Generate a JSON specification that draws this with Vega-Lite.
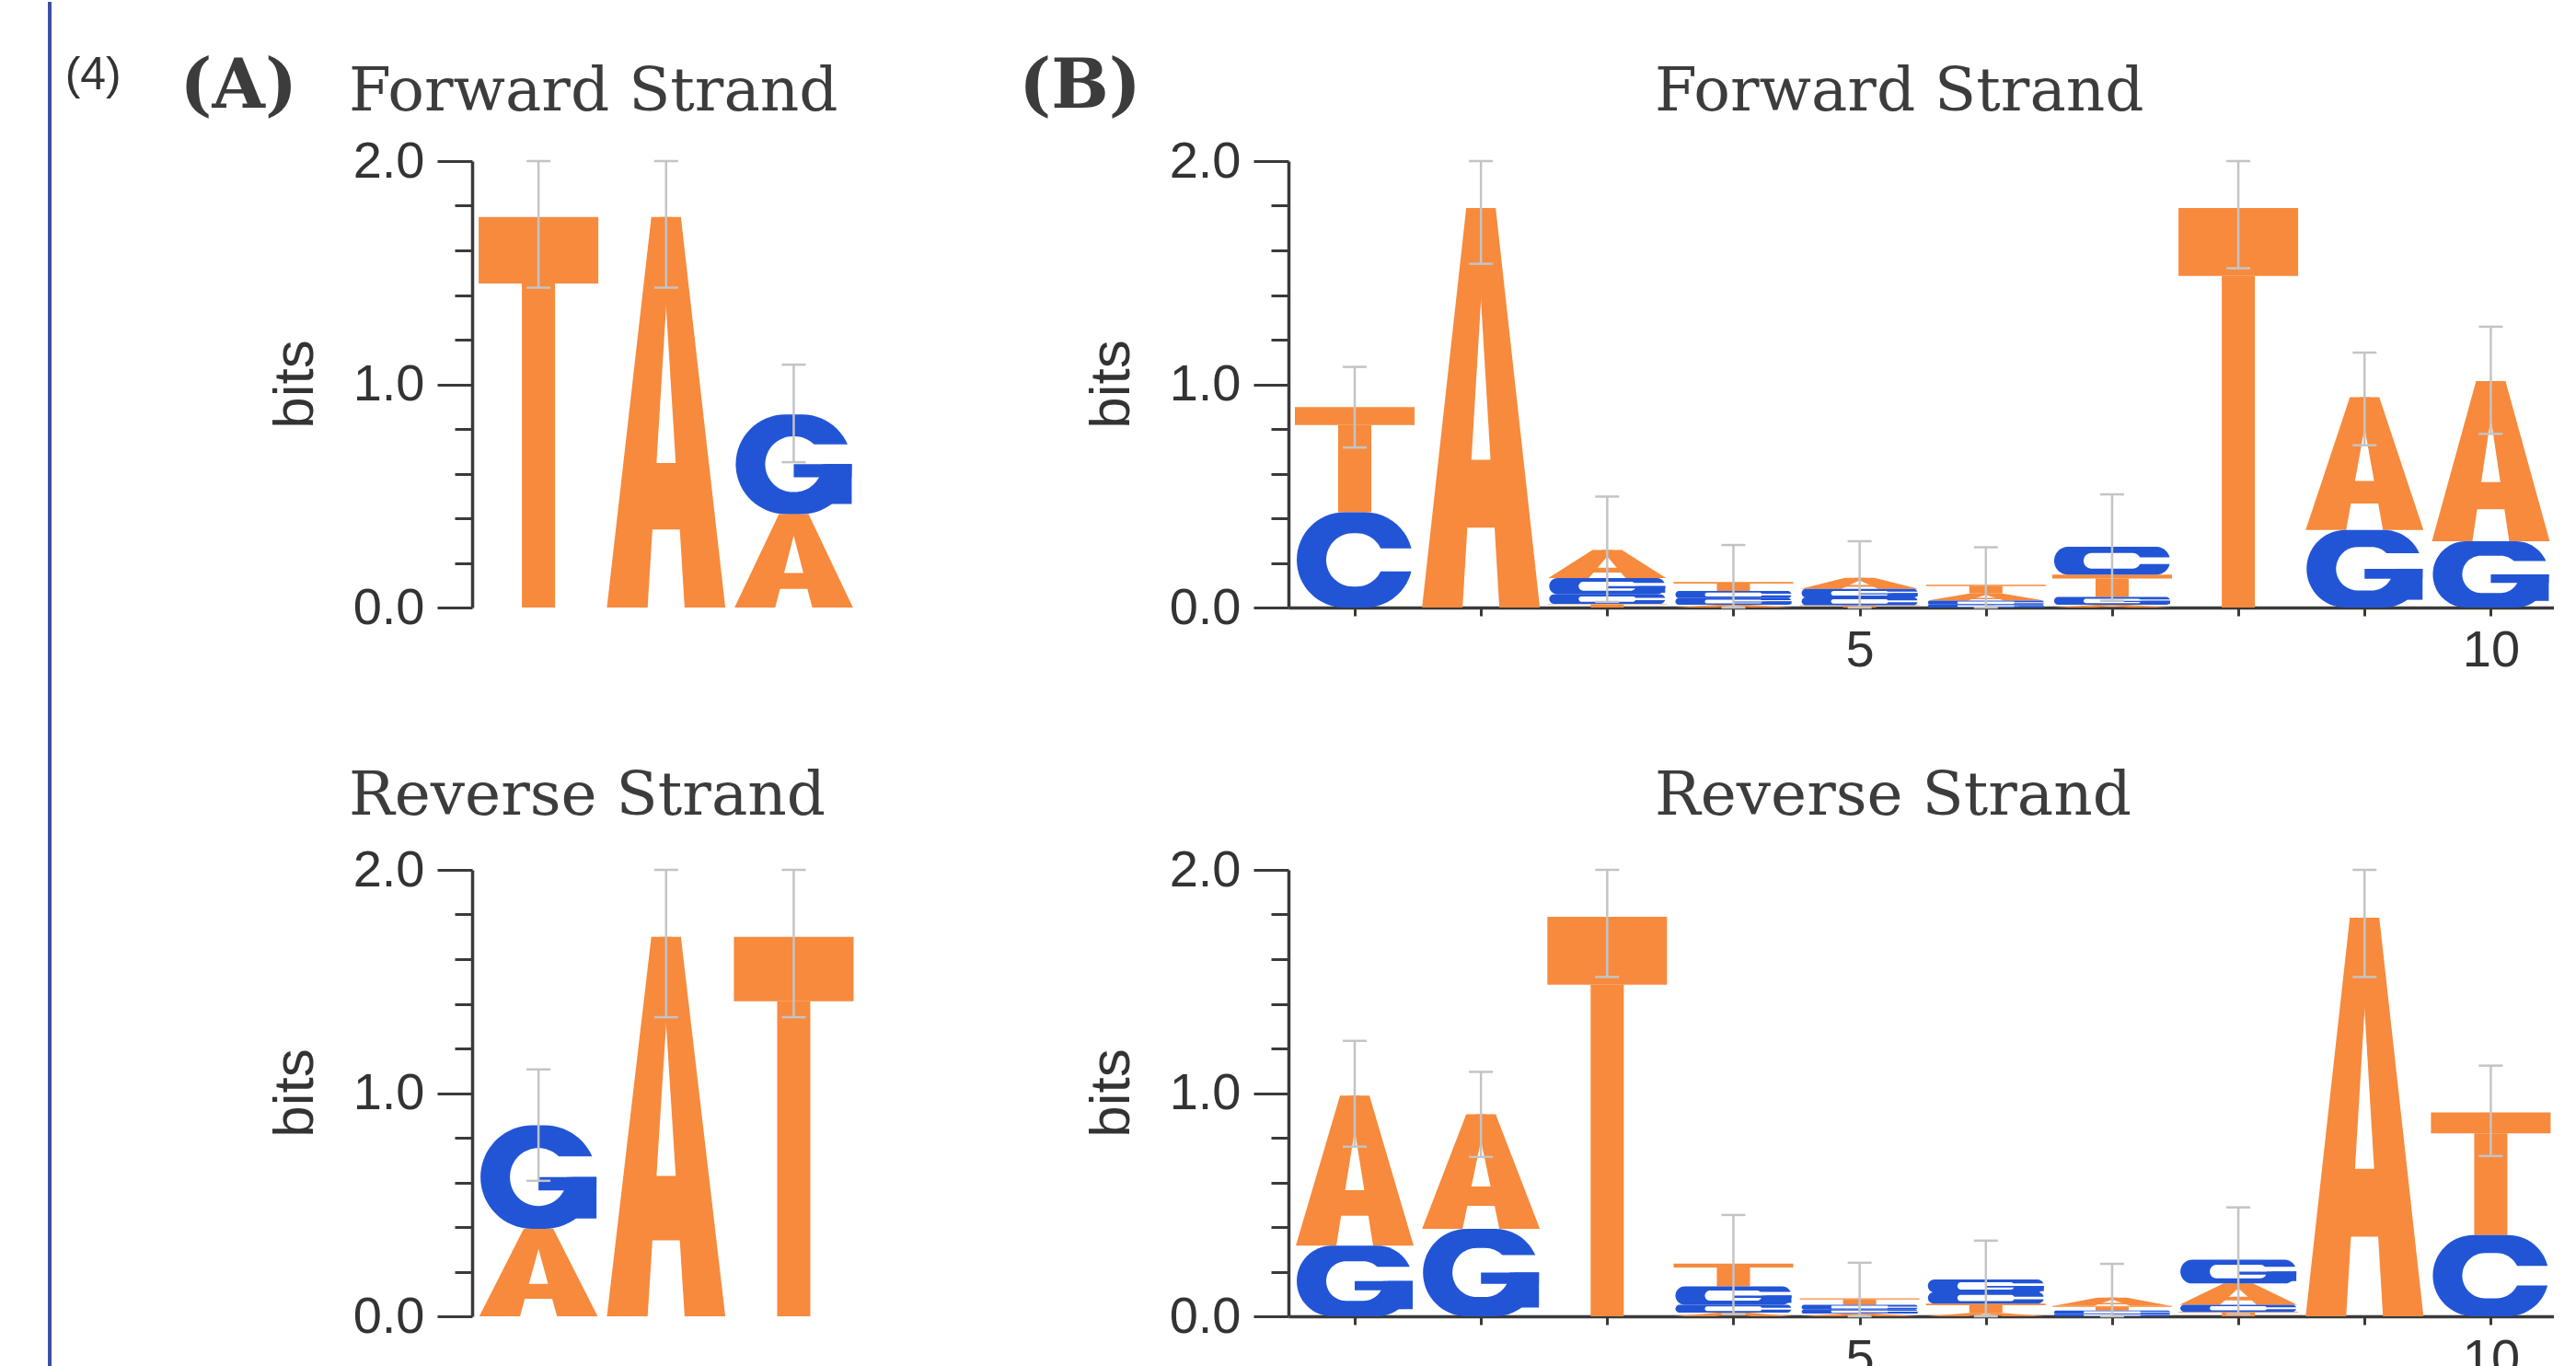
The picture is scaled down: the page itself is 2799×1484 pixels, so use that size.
{
"$schema": "https://vega.github.io/schema/vega-lite/v6.json",
"background": "#ffffff",
"padding": {"left": 52, "top": 0, "right": 0, "bottom": 0},
"config": {"view": {"stroke": null}, "axis": {"domainColor": "#3a3a3a", "tickColor": "#3a3a3a", "labelColor": "#333333", "titleColor": "#333333", "labelFont": "Liberation Sans", "titleFont": "Liberation Sans", "grid": false, "domainWidth": 3.5, "tickWidth": 3, "labelFlush": false, "labelOverlap": false}},
"datasets": {
"letters": [
{"p":"Af","pos":1,"base":"T","bits":1.749},
{"p":"Af","pos":2,"base":"A","bits":1.749},
{"p":"Af","pos":3,"base":"A","bits":0.419},
{"p":"Af","pos":3,"base":"G","bits":0.446},
{"p":"Ar","pos":1,"base":"A","bits":0.392},
{"p":"Ar","pos":1,"base":"G","bits":0.464},
{"p":"Ar","pos":2,"base":"A","bits":1.70},
{"p":"Ar","pos":3,"base":"T","bits":1.70},
{"p":"Bf","pos":1,"base":"C","bits":0.427},
{"p":"Bf","pos":1,"base":"T","bits":0.471},
{"p":"Bf","pos":2,"base":"A","bits":1.79},
{"p":"Bf","pos":3,"base":"T","bits":0.017},
{"p":"Bf","pos":3,"base":"C","bits":0.042},
{"p":"Bf","pos":3,"base":"G","bits":0.073},
{"p":"Bf","pos":3,"base":"A","bits":0.126},
{"p":"Bf","pos":4,"base":"A","bits":0.012},
{"p":"Bf","pos":4,"base":"G","bits":0.03},
{"p":"Bf","pos":4,"base":"C","bits":0.032},
{"p":"Bf","pos":4,"base":"T","bits":0.04},
{"p":"Bf","pos":5,"base":"T","bits":0.01},
{"p":"Bf","pos":5,"base":"C","bits":0.035},
{"p":"Bf","pos":5,"base":"G","bits":0.038},
{"p":"Bf","pos":5,"base":"A","bits":0.05},
{"p":"Bf","pos":6,"base":"G","bits":0.013},
{"p":"Bf","pos":6,"base":"C","bits":0.018},
{"p":"Bf","pos":6,"base":"A","bits":0.033},
{"p":"Bf","pos":6,"base":"T","bits":0.038},
{"p":"Bf","pos":7,"base":"A","bits":0.012},
{"p":"Bf","pos":7,"base":"G","bits":0.035},
{"p":"Bf","pos":7,"base":"T","bits":0.1},
{"p":"Bf","pos":7,"base":"C","bits":0.125},
{"p":"Bf","pos":8,"base":"T","bits":1.79},
{"p":"Bf","pos":9,"base":"G","bits":0.347},
{"p":"Bf","pos":9,"base":"A","bits":0.595},
{"p":"Bf","pos":10,"base":"G","bits":0.297},
{"p":"Bf","pos":10,"base":"A","bits":0.717},
{"p":"Br","pos":1,"base":"G","bits":0.316},
{"p":"Br","pos":1,"base":"A","bits":0.673},
{"p":"Br","pos":2,"base":"G","bits":0.392},
{"p":"Br","pos":2,"base":"A","bits":0.513},
{"p":"Br","pos":3,"base":"T","bits":1.79},
{"p":"Br","pos":4,"base":"A","bits":0.016},
{"p":"Br","pos":4,"base":"C","bits":0.036},
{"p":"Br","pos":4,"base":"G","bits":0.082},
{"p":"Br","pos":4,"base":"T","bits":0.102},
{"p":"Br","pos":5,"base":"A","bits":0.012},
{"p":"Br","pos":5,"base":"G","bits":0.018},
{"p":"Br","pos":5,"base":"C","bits":0.022},
{"p":"Br","pos":5,"base":"T","bits":0.028},
{"p":"Br","pos":6,"base":"A","bits":0.015},
{"p":"Br","pos":6,"base":"T","bits":0.042},
{"p":"Br","pos":6,"base":"C","bits":0.05},
{"p":"Br","pos":6,"base":"G","bits":0.058},
{"p":"Br","pos":7,"base":"G","bits":0.01},
{"p":"Br","pos":7,"base":"C","bits":0.016},
{"p":"Br","pos":7,"base":"T","bits":0.02},
{"p":"Br","pos":7,"base":"A","bits":0.037},
{"p":"Br","pos":8,"base":"T","bits":0.02},
{"p":"Br","pos":8,"base":"C","bits":0.032},
{"p":"Br","pos":8,"base":"A","bits":0.095},
{"p":"Br","pos":8,"base":"G","bits":0.107},
{"p":"Br","pos":9,"base":"A","bits":1.786},
{"p":"Br","pos":10,"base":"C","bits":0.364},
{"p":"Br","pos":10,"base":"T","bits":0.549}
],
"err": [
{"p":"Af","pos":1,"lo":1.433,"hi":2.0},
{"p":"Af","pos":2,"lo":1.433,"hi":2.0},
{"p":"Af","pos":3,"lo":0.651,"hi":1.088},
{"p":"Ar","pos":1,"lo":0.607,"hi":1.106},
{"p":"Ar","pos":2,"lo":1.34,"hi":2.0},
{"p":"Ar","pos":3,"lo":1.34,"hi":2.0},
{"p":"Bf","pos":1,"lo":0.717,"hi":1.078},
{"p":"Bf","pos":2,"lo":1.54,"hi":2.0},
{"p":"Bf","pos":3,"lo":0.025,"hi":0.497},
{"p":"Bf","pos":4,"lo":0.0,"hi":0.28},
{"p":"Bf","pos":5,"lo":0.0,"hi":0.297},
{"p":"Bf","pos":6,"lo":0.0,"hi":0.27},
{"p":"Bf","pos":7,"lo":0.03,"hi":0.507},
{"p":"Bf","pos":8,"lo":1.52,"hi":2.0},
{"p":"Bf","pos":9,"lo":0.727,"hi":1.142},
{"p":"Bf","pos":10,"lo":0.778,"hi":1.258},
{"p":"Br","pos":1,"lo":0.76,"hi":1.234},
{"p":"Br","pos":2,"lo":0.714,"hi":1.095},
{"p":"Br","pos":3,"lo":1.52,"hi":2.0},
{"p":"Br","pos":4,"lo":0.01,"hi":0.454},
{"p":"Br","pos":5,"lo":0.0,"hi":0.24},
{"p":"Br","pos":6,"lo":0.0,"hi":0.339},
{"p":"Br","pos":7,"lo":0.0,"hi":0.235},
{"p":"Br","pos":8,"lo":0.01,"hi":0.488},
{"p":"Br","pos":9,"lo":1.52,"hi":2.0},
{"p":"Br","pos":10,"lo":0.718,"hi":1.123}
]
},
"columns": 2,
"align": "each",
"bounds": "flush",
"spacing": {"row": 285, "column": 471},
"concat": [
{"width": 416, "height": 485, "layer": [
{"data": {"name": "letters"},
"transform": [
{"filter": "datum.p === 'Af'"},
{"stack": "bits", "groupby": ["pos"], "sort": [{"field": "bits", "order": "ascending"}], "as": ["y0", "y1"]},
{"calculate": "datum.y1 - datum.y0", "as": "h"},
{"calculate": "datum.y1 - 0.17 * datum.h", "as": "tb"},
{"calculate": "datum.y0 + 0.2 * datum.h", "as": "a0"},
{"calculate": "datum.y0 + 0.37 * datum.h", "as": "a1"},
{"calculate": "datum.y0 + 0.22 * datum.h", "as": "i0"},
{"calculate": "datum.y1 - 0.22 * datum.h", "as": "i1"},
{"calculate": "datum.y0 + (datum.base === 'C' ? 0.38 : 0.5) * datum.h", "as": "o0"},
{"calculate": "datum.y0 + (datum.base === 'C' ? 0.62 : 0.7) * datum.h", "as": "o1"},
{"calculate": "datum.y0 + 0.5 * datum.h", "as": "g1"},
{"calculate": "datum.y0 + 0.1 * datum.h", "as": "gs"}
],
"encoding": {"x": {"field": "pos", "type": "quantitative", "scale": {"domain": [0.48, 3.48], "nice": false, "zero": false}, "axis": null}},
"layer": [
{"transform": [{"filter": "datum.base === 'T'"}], "mark": {"type": "rect", "color": "#F78A3D", "xOffset": -65, "x2Offset": 65}, "encoding": {"x2": {"field": "pos"}, "y": {"field": "tb", "type": "quantitative", "scale": {"domain": [0, 2], "nice": false}, "axis": null}, "y2": {"field": "y1"}}},
{"transform": [{"filter": "datum.base === 'T'"}], "mark": {"type": "rect", "color": "#F78A3D", "xOffset": -18, "x2Offset": 18}, "encoding": {"x2": {"field": "pos"}, "y": {"field": "y0", "type": "quantitative", "scale": {"domain": [0, 2], "nice": false}, "axis": null}, "y2": {"field": "tb"}}},
{"transform": [{"filter": "datum.base === 'A'"}, {"fold": ["y0", "y1"], "as": ["end", "yv"]},
{"calculate": "datum.pos + (datum.end === 'y0' ? -64 : -16) / 138", "as": "lx1"},
{"calculate": "datum.pos + (datum.end === 'y0' ? -20 : 6) / 138", "as": "lx2"},
{"calculate": "datum.pos + (datum.end === 'y0' ? 20 : -6) / 138", "as": "rx1"},
{"calculate": "datum.pos + (datum.end === 'y0' ? 64 : 16) / 138", "as": "rx2"}],
"layer": [
{"mark": {"type": "area", "orient": "horizontal", "color": "#F78A3D", "opacity": 1}, "encoding": {"y": {"field": "yv", "type": "quantitative", "scale": {"domain": [0, 2], "nice": false}, "axis": null}, "x": {"field": "lx1", "type": "quantitative", "scale": {"domain": [0.48, 3.48], "nice": false, "zero": false}, "axis": null, "stack": null}, "x2": {"field": "lx2"}, "detail": {"field": "pos"}}},
{"mark": {"type": "area", "orient": "horizontal", "color": "#F78A3D", "opacity": 1}, "encoding": {"y": {"field": "yv", "type": "quantitative", "scale": {"domain": [0, 2], "nice": false}, "axis": null}, "x": {"field": "rx1", "type": "quantitative", "scale": {"domain": [0.48, 3.48], "nice": false, "zero": false}, "axis": null, "stack": null}, "x2": {"field": "rx2"}, "detail": {"field": "pos"}}}
]},
{"transform": [{"filter": "datum.base === 'A'"}], "mark": {"type": "rect", "color": "#F78A3D", "xOffset": -35, "x2Offset": 35}, "encoding": {"x2": {"field": "pos"}, "y": {"field": "a0", "type": "quantitative", "scale": {"domain": [0, 2], "nice": false}, "axis": null}, "y2": {"field": "a1"}}},
{"transform": [{"filter": "datum.base === 'C' || datum.base === 'G'"}], "mark": {"type": "rect", "color": "#2255D6", "xOffset": -63, "x2Offset": 63, "cornerRadius": 300}, "encoding": {"x2": {"field": "pos"}, "y": {"field": "y0", "type": "quantitative", "scale": {"domain": [0, 2], "nice": false}, "axis": null}, "y2": {"field": "y1"}}},
{"transform": [{"filter": "datum.base === 'C' || datum.base === 'G'"}], "mark": {"type": "rect", "color": "#ffffff", "xOffset": -31, "x2Offset": 31, "cornerRadius": 300}, "encoding": {"x2": {"field": "pos"}, "y": {"field": "i0", "type": "quantitative", "scale": {"domain": [0, 2], "nice": false}, "axis": null}, "y2": {"field": "i1"}}},
{"transform": [{"filter": "datum.base === 'C' || datum.base === 'G'"}], "mark": {"type": "rect", "color": "#ffffff", "xOffset": 10, "x2Offset": 66}, "encoding": {"x2": {"field": "pos"}, "y": {"field": "o0", "type": "quantitative", "scale": {"domain": [0, 2], "nice": false}, "axis": null}, "y2": {"field": "o1"}}},
{"transform": [{"filter": "datum.base === 'G'"}], "mark": {"type": "rect", "color": "#2255D6", "xOffset": 0, "x2Offset": 63}, "encoding": {"x2": {"field": "pos"}, "y": {"field": "a1", "type": "quantitative", "scale": {"domain": [0, 2], "nice": false}, "axis": null}, "y2": {"field": "g1"}}},
{"transform": [{"filter": "datum.base === 'G'"}], "mark": {"type": "rect", "color": "#2255D6", "xOffset": 36, "x2Offset": 63}, "encoding": {"x2": {"field": "pos"}, "y": {"field": "gs", "type": "quantitative", "scale": {"domain": [0, 2], "nice": false}, "axis": null}, "y2": {"field": "g1"}}}
]},
{"data": {"name": "err"}, "transform": [{"filter": "datum.p === 'Af'"}],
"resolve": {"axis": {"y": "independent"}},
"layer": [
{"mark": {"type": "rule", "color": "#c4c4c4", "strokeWidth": 2.5}, "encoding": {"x": {"field": "pos", "type": "quantitative", "scale": {"domain": [0.48, 3.48], "nice": false, "zero": false}, "axis": {"title": null, "values": [1, 2, 3], "labels": false, "tickSize": 9}}, "y": {"field": "lo", "type": "quantitative", "scale": {"domain": [0, 2], "nice": false}, "axis": {"orient": "left", "title": "bits", "values": [0, 1, 2], "format": ".1f", "tickSize": 38, "labelPadding": 14, "labelFontSize": 56, "titleFontSize": 62, "titleFontWeight": "normal", "titleX": -174, "titleY": 242, "titleAngle": 270, "titleAlign": "center", "titleBaseline": "alphabetic"}}, "y2": {"field": "hi"}}},
{"mark": {"type": "rule", "color": "#c4c4c4", "strokeWidth": 2.5, "xOffset": -13, "x2Offset": 13}, "encoding": {"x": {"field": "pos", "type": "quantitative", "scale": {"domain": [0.48, 3.48], "nice": false, "zero": false}, "axis": null}, "x2": {"field": "pos"}, "y": {"field": "hi", "type": "quantitative", "scale": {"domain": [0, 2], "nice": false}, "axis": {"orient": "left", "title": null, "values": [0.2, 0.4, 0.6, 0.8, 1.2, 1.4, 1.6, 1.8], "labels": false, "domain": false, "tickSize": 19}}}},
{"mark": {"type": "rule", "color": "#c4c4c4", "strokeWidth": 2.5, "xOffset": -13, "x2Offset": 13}, "encoding": {"x": {"field": "pos", "type": "quantitative", "scale": {"domain": [0.48, 3.48], "nice": false, "zero": false}, "axis": null}, "x2": {"field": "pos"}, "y": {"field": "lo", "type": "quantitative", "scale": {"domain": [0, 2], "nice": false}, "axis": null}}}
]},
{"data": {"values": [{}]}, "mark": {"type": "rule", "color": "#3B4FA3", "strokeWidth": 4}, "encoding": {"x": {"datum": -2.83, "type": "quantitative", "scale": {"domain": [0.48, 3.48], "nice": false, "zero": false}, "axis": null}, "y": {"datum": 2.7134, "type": "quantitative", "scale": {"domain": [0, 2], "nice": false}, "axis": null}, "y2": {"datum": -3.5}}},
{"data": {"values": [{}]}, "mark": {"type": "text", "text": "(4)", "align": "left", "baseline": "alphabetic", "font": "Liberation Sans", "fontSize": 50, "color": "#333333"}, "encoding": {"x": {"datum": -2.71, "type": "quantitative", "scale": {"domain": [0.48, 3.48], "nice": false, "zero": false}, "axis": null}, "y": {"datum": 2.322, "type": "quantitative", "scale": {"domain": [0, 2], "nice": false}, "axis": null}}},
{"data": {"values": [{}]}, "mark": {"type": "text", "text": "(A)", "align": "left", "baseline": "alphabetic", "font": "DejaVu Serif", "fontWeight": "bold", "fontSize": 74, "color": "#3c3c3c"}, "encoding": {"x": {"datum": -1.81, "type": "quantitative", "scale": {"domain": [0.48, 3.48], "nice": false, "zero": false}, "axis": null}, "y": {"datum": 2.238, "type": "quantitative", "scale": {"domain": [0, 2], "nice": false}, "axis": null}}},
{"data": {"values": [{}]}, "mark": {"type": "text", "text": "Forward Strand", "align": "left", "baseline": "alphabetic", "font": "DejaVu Serif", "fontSize": 66, "color": "#3c3c3c"}, "encoding": {"x": {"datum": -0.486, "type": "quantitative", "scale": {"domain": [0.48, 3.48], "nice": false, "zero": false}, "axis": null}, "y": {"datum": 2.227, "type": "quantitative", "scale": {"domain": [0, 2], "nice": false}, "axis": null}}}
]},
{"width": 1375, "height": 485, "layer": [
{"data": {"name": "letters"},
"transform": [
{"filter": "datum.p === 'Bf'"},
{"stack": "bits", "groupby": ["pos"], "sort": [{"field": "bits", "order": "ascending"}], "as": ["y0", "y1"]},
{"calculate": "datum.y1 - datum.y0", "as": "h"},
{"calculate": "datum.y1 - 0.17 * datum.h", "as": "tb"},
{"calculate": "datum.y0 + 0.2 * datum.h", "as": "a0"},
{"calculate": "datum.y0 + 0.37 * datum.h", "as": "a1"},
{"calculate": "datum.y0 + 0.22 * datum.h", "as": "i0"},
{"calculate": "datum.y1 - 0.22 * datum.h", "as": "i1"},
{"calculate": "datum.y0 + (datum.base === 'C' ? 0.38 : 0.5) * datum.h", "as": "o0"},
{"calculate": "datum.y0 + (datum.base === 'C' ? 0.62 : 0.7) * datum.h", "as": "o1"},
{"calculate": "datum.y0 + 0.5 * datum.h", "as": "g1"},
{"calculate": "datum.y0 + 0.1 * datum.h", "as": "gs"}
],
"encoding": {"x": {"field": "pos", "type": "quantitative", "scale": {"domain": [0.475, 10.5], "nice": false, "zero": false}, "axis": null}},
"layer": [
{"transform": [{"filter": "datum.base === 'T'"}], "mark": {"type": "rect", "color": "#F78A3D", "xOffset": -65, "x2Offset": 65}, "encoding": {"x2": {"field": "pos"}, "y": {"field": "tb", "type": "quantitative", "scale": {"domain": [0, 2], "nice": false}, "axis": null}, "y2": {"field": "y1"}}},
{"transform": [{"filter": "datum.base === 'T'"}], "mark": {"type": "rect", "color": "#F78A3D", "xOffset": -18, "x2Offset": 18}, "encoding": {"x2": {"field": "pos"}, "y": {"field": "y0", "type": "quantitative", "scale": {"domain": [0, 2], "nice": false}, "axis": null}, "y2": {"field": "tb"}}},
{"transform": [{"filter": "datum.base === 'A'"}, {"fold": ["y0", "y1"], "as": ["end", "yv"]},
{"calculate": "datum.pos + (datum.end === 'y0' ? -64 : -16) / 137.2", "as": "lx1"},
{"calculate": "datum.pos + (datum.end === 'y0' ? -20 : 6) / 137.2", "as": "lx2"},
{"calculate": "datum.pos + (datum.end === 'y0' ? 20 : -6) / 137.2", "as": "rx1"},
{"calculate": "datum.pos + (datum.end === 'y0' ? 64 : 16) / 137.2", "as": "rx2"}],
"layer": [
{"mark": {"type": "area", "orient": "horizontal", "color": "#F78A3D", "opacity": 1}, "encoding": {"y": {"field": "yv", "type": "quantitative", "scale": {"domain": [0, 2], "nice": false}, "axis": null}, "x": {"field": "lx1", "type": "quantitative", "scale": {"domain": [0.475, 10.5], "nice": false, "zero": false}, "axis": null, "stack": null}, "x2": {"field": "lx2"}, "detail": {"field": "pos"}}},
{"mark": {"type": "area", "orient": "horizontal", "color": "#F78A3D", "opacity": 1}, "encoding": {"y": {"field": "yv", "type": "quantitative", "scale": {"domain": [0, 2], "nice": false}, "axis": null}, "x": {"field": "rx1", "type": "quantitative", "scale": {"domain": [0.475, 10.5], "nice": false, "zero": false}, "axis": null, "stack": null}, "x2": {"field": "rx2"}, "detail": {"field": "pos"}}}
]},
{"transform": [{"filter": "datum.base === 'A'"}], "mark": {"type": "rect", "color": "#F78A3D", "xOffset": -35, "x2Offset": 35}, "encoding": {"x2": {"field": "pos"}, "y": {"field": "a0", "type": "quantitative", "scale": {"domain": [0, 2], "nice": false}, "axis": null}, "y2": {"field": "a1"}}},
{"transform": [{"filter": "datum.base === 'C' || datum.base === 'G'"}], "mark": {"type": "rect", "color": "#2255D6", "xOffset": -63, "x2Offset": 63, "cornerRadius": 300}, "encoding": {"x2": {"field": "pos"}, "y": {"field": "y0", "type": "quantitative", "scale": {"domain": [0, 2], "nice": false}, "axis": null}, "y2": {"field": "y1"}}},
{"transform": [{"filter": "datum.base === 'C' || datum.base === 'G'"}], "mark": {"type": "rect", "color": "#ffffff", "xOffset": -31, "x2Offset": 31, "cornerRadius": 300}, "encoding": {"x2": {"field": "pos"}, "y": {"field": "i0", "type": "quantitative", "scale": {"domain": [0, 2], "nice": false}, "axis": null}, "y2": {"field": "i1"}}},
{"transform": [{"filter": "datum.base === 'C' || datum.base === 'G'"}], "mark": {"type": "rect", "color": "#ffffff", "xOffset": 10, "x2Offset": 66}, "encoding": {"x2": {"field": "pos"}, "y": {"field": "o0", "type": "quantitative", "scale": {"domain": [0, 2], "nice": false}, "axis": null}, "y2": {"field": "o1"}}},
{"transform": [{"filter": "datum.base === 'G'"}], "mark": {"type": "rect", "color": "#2255D6", "xOffset": 0, "x2Offset": 63}, "encoding": {"x2": {"field": "pos"}, "y": {"field": "a1", "type": "quantitative", "scale": {"domain": [0, 2], "nice": false}, "axis": null}, "y2": {"field": "g1"}}},
{"transform": [{"filter": "datum.base === 'G'"}], "mark": {"type": "rect", "color": "#2255D6", "xOffset": 36, "x2Offset": 63}, "encoding": {"x2": {"field": "pos"}, "y": {"field": "gs", "type": "quantitative", "scale": {"domain": [0, 2], "nice": false}, "axis": null}, "y2": {"field": "g1"}}}
]},
{"data": {"name": "err"}, "transform": [{"filter": "datum.p === 'Bf'"}],
"resolve": {"axis": {"y": "independent", "x": "independent"}},
"layer": [
{"mark": {"type": "rule", "color": "#c4c4c4", "strokeWidth": 2.5}, "encoding": {"x": {"field": "pos", "type": "quantitative", "scale": {"domain": [0.475, 10.5], "nice": false, "zero": false}, "axis": {"orient": "bottom", "title": null, "values": [5, 10], "format": "d", "labelFontSize": 56, "labelPadding": 10, "tickSize": 9}}, "y": {"field": "lo", "type": "quantitative", "scale": {"domain": [0, 2], "nice": false}, "axis": {"orient": "left", "title": "bits", "values": [0, 1, 2], "format": ".1f", "tickSize": 38, "labelPadding": 14, "labelFontSize": 56, "titleFontSize": 62, "titleFontWeight": "normal", "titleX": -174, "titleY": 242, "titleAngle": 270, "titleAlign": "center", "titleBaseline": "alphabetic"}}, "y2": {"field": "hi"}}},
{"mark": {"type": "rule", "color": "#c4c4c4", "strokeWidth": 2.5, "xOffset": -13, "x2Offset": 13}, "encoding": {"x": {"field": "pos", "type": "quantitative", "scale": {"domain": [0.475, 10.5], "nice": false, "zero": false}, "axis": {"orient": "bottom", "title": null, "values": [1, 2, 3, 4, 6, 7, 8, 9], "labels": false, "domain": false, "tickSize": 9}}, "x2": {"field": "pos"}, "y": {"field": "hi", "type": "quantitative", "scale": {"domain": [0, 2], "nice": false}, "axis": {"orient": "left", "title": null, "values": [0.2, 0.4, 0.6, 0.8, 1.2, 1.4, 1.6, 1.8], "labels": false, "domain": false, "tickSize": 19}}}},
{"mark": {"type": "rule", "color": "#c4c4c4", "strokeWidth": 2.5, "xOffset": -13, "x2Offset": 13}, "encoding": {"x": {"field": "pos", "type": "quantitative", "scale": {"domain": [0.475, 10.5], "nice": false, "zero": false}, "axis": null}, "x2": {"field": "pos"}, "y": {"field": "lo", "type": "quantitative", "scale": {"domain": [0, 2], "nice": false}, "axis": null}}}
]},
{"data": {"values": [{}]}, "mark": {"type": "text", "text": "(B)", "align": "left", "baseline": "alphabetic", "font": "DejaVu Serif", "fontWeight": "bold", "fontSize": 74, "color": "#3c3c3c"}, "encoding": {"x": {"datum": -1.66, "type": "quantitative", "scale": {"domain": [0.475, 10.5], "nice": false, "zero": false}, "axis": null}, "y": {"datum": 2.238, "type": "quantitative", "scale": {"domain": [0, 2], "nice": false}, "axis": null}}},
{"data": {"values": [{}]}, "mark": {"type": "text", "text": "Forward Strand", "align": "left", "baseline": "alphabetic", "font": "DejaVu Serif", "fontSize": 66, "color": "#3c3c3c"}, "encoding": {"x": {"datum": 3.377, "type": "quantitative", "scale": {"domain": [0.475, 10.5], "nice": false, "zero": false}, "axis": null}, "y": {"datum": 2.227, "type": "quantitative", "scale": {"domain": [0, 2], "nice": false}, "axis": null}}}
]},
{"width": 416, "height": 485, "layer": [
{"data": {"name": "letters"},
"transform": [
{"filter": "datum.p === 'Ar'"},
{"stack": "bits", "groupby": ["pos"], "sort": [{"field": "bits", "order": "ascending"}], "as": ["y0", "y1"]},
{"calculate": "datum.y1 - datum.y0", "as": "h"},
{"calculate": "datum.y1 - 0.17 * datum.h", "as": "tb"},
{"calculate": "datum.y0 + 0.2 * datum.h", "as": "a0"},
{"calculate": "datum.y0 + 0.37 * datum.h", "as": "a1"},
{"calculate": "datum.y0 + 0.22 * datum.h", "as": "i0"},
{"calculate": "datum.y1 - 0.22 * datum.h", "as": "i1"},
{"calculate": "datum.y0 + (datum.base === 'C' ? 0.38 : 0.5) * datum.h", "as": "o0"},
{"calculate": "datum.y0 + (datum.base === 'C' ? 0.62 : 0.7) * datum.h", "as": "o1"},
{"calculate": "datum.y0 + 0.5 * datum.h", "as": "g1"},
{"calculate": "datum.y0 + 0.1 * datum.h", "as": "gs"}
],
"encoding": {"x": {"field": "pos", "type": "quantitative", "scale": {"domain": [0.48, 3.48], "nice": false, "zero": false}, "axis": null}},
"layer": [
{"transform": [{"filter": "datum.base === 'T'"}], "mark": {"type": "rect", "color": "#F78A3D", "xOffset": -65, "x2Offset": 65}, "encoding": {"x2": {"field": "pos"}, "y": {"field": "tb", "type": "quantitative", "scale": {"domain": [0, 2], "nice": false}, "axis": null}, "y2": {"field": "y1"}}},
{"transform": [{"filter": "datum.base === 'T'"}], "mark": {"type": "rect", "color": "#F78A3D", "xOffset": -18, "x2Offset": 18}, "encoding": {"x2": {"field": "pos"}, "y": {"field": "y0", "type": "quantitative", "scale": {"domain": [0, 2], "nice": false}, "axis": null}, "y2": {"field": "tb"}}},
{"transform": [{"filter": "datum.base === 'A'"}, {"fold": ["y0", "y1"], "as": ["end", "yv"]},
{"calculate": "datum.pos + (datum.end === 'y0' ? -64 : -16) / 138", "as": "lx1"},
{"calculate": "datum.pos + (datum.end === 'y0' ? -20 : 6) / 138", "as": "lx2"},
{"calculate": "datum.pos + (datum.end === 'y0' ? 20 : -6) / 138", "as": "rx1"},
{"calculate": "datum.pos + (datum.end === 'y0' ? 64 : 16) / 138", "as": "rx2"}],
"layer": [
{"mark": {"type": "area", "orient": "horizontal", "color": "#F78A3D", "opacity": 1}, "encoding": {"y": {"field": "yv", "type": "quantitative", "scale": {"domain": [0, 2], "nice": false}, "axis": null}, "x": {"field": "lx1", "type": "quantitative", "scale": {"domain": [0.48, 3.48], "nice": false, "zero": false}, "axis": null, "stack": null}, "x2": {"field": "lx2"}, "detail": {"field": "pos"}}},
{"mark": {"type": "area", "orient": "horizontal", "color": "#F78A3D", "opacity": 1}, "encoding": {"y": {"field": "yv", "type": "quantitative", "scale": {"domain": [0, 2], "nice": false}, "axis": null}, "x": {"field": "rx1", "type": "quantitative", "scale": {"domain": [0.48, 3.48], "nice": false, "zero": false}, "axis": null, "stack": null}, "x2": {"field": "rx2"}, "detail": {"field": "pos"}}}
]},
{"transform": [{"filter": "datum.base === 'A'"}], "mark": {"type": "rect", "color": "#F78A3D", "xOffset": -35, "x2Offset": 35}, "encoding": {"x2": {"field": "pos"}, "y": {"field": "a0", "type": "quantitative", "scale": {"domain": [0, 2], "nice": false}, "axis": null}, "y2": {"field": "a1"}}},
{"transform": [{"filter": "datum.base === 'C' || datum.base === 'G'"}], "mark": {"type": "rect", "color": "#2255D6", "xOffset": -63, "x2Offset": 63, "cornerRadius": 300}, "encoding": {"x2": {"field": "pos"}, "y": {"field": "y0", "type": "quantitative", "scale": {"domain": [0, 2], "nice": false}, "axis": null}, "y2": {"field": "y1"}}},
{"transform": [{"filter": "datum.base === 'C' || datum.base === 'G'"}], "mark": {"type": "rect", "color": "#ffffff", "xOffset": -31, "x2Offset": 31, "cornerRadius": 300}, "encoding": {"x2": {"field": "pos"}, "y": {"field": "i0", "type": "quantitative", "scale": {"domain": [0, 2], "nice": false}, "axis": null}, "y2": {"field": "i1"}}},
{"transform": [{"filter": "datum.base === 'C' || datum.base === 'G'"}], "mark": {"type": "rect", "color": "#ffffff", "xOffset": 10, "x2Offset": 66}, "encoding": {"x2": {"field": "pos"}, "y": {"field": "o0", "type": "quantitative", "scale": {"domain": [0, 2], "nice": false}, "axis": null}, "y2": {"field": "o1"}}},
{"transform": [{"filter": "datum.base === 'G'"}], "mark": {"type": "rect", "color": "#2255D6", "xOffset": 0, "x2Offset": 63}, "encoding": {"x2": {"field": "pos"}, "y": {"field": "a1", "type": "quantitative", "scale": {"domain": [0, 2], "nice": false}, "axis": null}, "y2": {"field": "g1"}}},
{"transform": [{"filter": "datum.base === 'G'"}], "mark": {"type": "rect", "color": "#2255D6", "xOffset": 36, "x2Offset": 63}, "encoding": {"x2": {"field": "pos"}, "y": {"field": "gs", "type": "quantitative", "scale": {"domain": [0, 2], "nice": false}, "axis": null}, "y2": {"field": "g1"}}}
]},
{"data": {"name": "err"}, "transform": [{"filter": "datum.p === 'Ar'"}],
"resolve": {"axis": {"y": "independent"}},
"layer": [
{"mark": {"type": "rule", "color": "#c4c4c4", "strokeWidth": 2.5}, "encoding": {"x": {"field": "pos", "type": "quantitative", "scale": {"domain": [0.48, 3.48], "nice": false, "zero": false}, "axis": {"title": null, "values": [1, 2, 3], "labels": false, "tickSize": 9}}, "y": {"field": "lo", "type": "quantitative", "scale": {"domain": [0, 2], "nice": false}, "axis": {"orient": "left", "title": "bits", "values": [0, 1, 2], "format": ".1f", "tickSize": 38, "labelPadding": 14, "labelFontSize": 56, "titleFontSize": 62, "titleFontWeight": "normal", "titleX": -174, "titleY": 242, "titleAngle": 270, "titleAlign": "center", "titleBaseline": "alphabetic"}}, "y2": {"field": "hi"}}},
{"mark": {"type": "rule", "color": "#c4c4c4", "strokeWidth": 2.5, "xOffset": -13, "x2Offset": 13}, "encoding": {"x": {"field": "pos", "type": "quantitative", "scale": {"domain": [0.48, 3.48], "nice": false, "zero": false}, "axis": null}, "x2": {"field": "pos"}, "y": {"field": "hi", "type": "quantitative", "scale": {"domain": [0, 2], "nice": false}, "axis": {"orient": "left", "title": null, "values": [0.2, 0.4, 0.6, 0.8, 1.2, 1.4, 1.6, 1.8], "labels": false, "domain": false, "tickSize": 19}}}},
{"mark": {"type": "rule", "color": "#c4c4c4", "strokeWidth": 2.5, "xOffset": -13, "x2Offset": 13}, "encoding": {"x": {"field": "pos", "type": "quantitative", "scale": {"domain": [0.48, 3.48], "nice": false, "zero": false}, "axis": null}, "x2": {"field": "pos"}, "y": {"field": "lo", "type": "quantitative", "scale": {"domain": [0, 2], "nice": false}, "axis": null}}}
]},
{"data": {"values": [{}]}, "mark": {"type": "text", "text": "Reverse Strand", "align": "left", "baseline": "alphabetic", "font": "DejaVu Serif", "fontSize": 66, "color": "#3c3c3c"}, "encoding": {"x": {"datum": -0.486, "type": "quantitative", "scale": {"domain": [0.48, 3.48], "nice": false, "zero": false}, "axis": null}, "y": {"datum": 2.247, "type": "quantitative", "scale": {"domain": [0, 2], "nice": false}, "axis": null}}}
]},
{"width": 1375, "height": 485, "layer": [
{"data": {"name": "letters"},
"transform": [
{"filter": "datum.p === 'Br'"},
{"stack": "bits", "groupby": ["pos"], "sort": [{"field": "bits", "order": "ascending"}], "as": ["y0", "y1"]},
{"calculate": "datum.y1 - datum.y0", "as": "h"},
{"calculate": "datum.y1 - 0.17 * datum.h", "as": "tb"},
{"calculate": "datum.y0 + 0.2 * datum.h", "as": "a0"},
{"calculate": "datum.y0 + 0.37 * datum.h", "as": "a1"},
{"calculate": "datum.y0 + 0.22 * datum.h", "as": "i0"},
{"calculate": "datum.y1 - 0.22 * datum.h", "as": "i1"},
{"calculate": "datum.y0 + (datum.base === 'C' ? 0.38 : 0.5) * datum.h", "as": "o0"},
{"calculate": "datum.y0 + (datum.base === 'C' ? 0.62 : 0.7) * datum.h", "as": "o1"},
{"calculate": "datum.y0 + 0.5 * datum.h", "as": "g1"},
{"calculate": "datum.y0 + 0.1 * datum.h", "as": "gs"}
],
"encoding": {"x": {"field": "pos", "type": "quantitative", "scale": {"domain": [0.475, 10.5], "nice": false, "zero": false}, "axis": null}},
"layer": [
{"transform": [{"filter": "datum.base === 'T'"}], "mark": {"type": "rect", "color": "#F78A3D", "xOffset": -65, "x2Offset": 65}, "encoding": {"x2": {"field": "pos"}, "y": {"field": "tb", "type": "quantitative", "scale": {"domain": [0, 2], "nice": false}, "axis": null}, "y2": {"field": "y1"}}},
{"transform": [{"filter": "datum.base === 'T'"}], "mark": {"type": "rect", "color": "#F78A3D", "xOffset": -18, "x2Offset": 18}, "encoding": {"x2": {"field": "pos"}, "y": {"field": "y0", "type": "quantitative", "scale": {"domain": [0, 2], "nice": false}, "axis": null}, "y2": {"field": "tb"}}},
{"transform": [{"filter": "datum.base === 'A'"}, {"fold": ["y0", "y1"], "as": ["end", "yv"]},
{"calculate": "datum.pos + (datum.end === 'y0' ? -64 : -16) / 137.2", "as": "lx1"},
{"calculate": "datum.pos + (datum.end === 'y0' ? -20 : 6) / 137.2", "as": "lx2"},
{"calculate": "datum.pos + (datum.end === 'y0' ? 20 : -6) / 137.2", "as": "rx1"},
{"calculate": "datum.pos + (datum.end === 'y0' ? 64 : 16) / 137.2", "as": "rx2"}],
"layer": [
{"mark": {"type": "area", "orient": "horizontal", "color": "#F78A3D", "opacity": 1}, "encoding": {"y": {"field": "yv", "type": "quantitative", "scale": {"domain": [0, 2], "nice": false}, "axis": null}, "x": {"field": "lx1", "type": "quantitative", "scale": {"domain": [0.475, 10.5], "nice": false, "zero": false}, "axis": null, "stack": null}, "x2": {"field": "lx2"}, "detail": {"field": "pos"}}},
{"mark": {"type": "area", "orient": "horizontal", "color": "#F78A3D", "opacity": 1}, "encoding": {"y": {"field": "yv", "type": "quantitative", "scale": {"domain": [0, 2], "nice": false}, "axis": null}, "x": {"field": "rx1", "type": "quantitative", "scale": {"domain": [0.475, 10.5], "nice": false, "zero": false}, "axis": null, "stack": null}, "x2": {"field": "rx2"}, "detail": {"field": "pos"}}}
]},
{"transform": [{"filter": "datum.base === 'A'"}], "mark": {"type": "rect", "color": "#F78A3D", "xOffset": -35, "x2Offset": 35}, "encoding": {"x2": {"field": "pos"}, "y": {"field": "a0", "type": "quantitative", "scale": {"domain": [0, 2], "nice": false}, "axis": null}, "y2": {"field": "a1"}}},
{"transform": [{"filter": "datum.base === 'C' || datum.base === 'G'"}], "mark": {"type": "rect", "color": "#2255D6", "xOffset": -63, "x2Offset": 63, "cornerRadius": 300}, "encoding": {"x2": {"field": "pos"}, "y": {"field": "y0", "type": "quantitative", "scale": {"domain": [0, 2], "nice": false}, "axis": null}, "y2": {"field": "y1"}}},
{"transform": [{"filter": "datum.base === 'C' || datum.base === 'G'"}], "mark": {"type": "rect", "color": "#ffffff", "xOffset": -31, "x2Offset": 31, "cornerRadius": 300}, "encoding": {"x2": {"field": "pos"}, "y": {"field": "i0", "type": "quantitative", "scale": {"domain": [0, 2], "nice": false}, "axis": null}, "y2": {"field": "i1"}}},
{"transform": [{"filter": "datum.base === 'C' || datum.base === 'G'"}], "mark": {"type": "rect", "color": "#ffffff", "xOffset": 10, "x2Offset": 66}, "encoding": {"x2": {"field": "pos"}, "y": {"field": "o0", "type": "quantitative", "scale": {"domain": [0, 2], "nice": false}, "axis": null}, "y2": {"field": "o1"}}},
{"transform": [{"filter": "datum.base === 'G'"}], "mark": {"type": "rect", "color": "#2255D6", "xOffset": 0, "x2Offset": 63}, "encoding": {"x2": {"field": "pos"}, "y": {"field": "a1", "type": "quantitative", "scale": {"domain": [0, 2], "nice": false}, "axis": null}, "y2": {"field": "g1"}}},
{"transform": [{"filter": "datum.base === 'G'"}], "mark": {"type": "rect", "color": "#2255D6", "xOffset": 36, "x2Offset": 63}, "encoding": {"x2": {"field": "pos"}, "y": {"field": "gs", "type": "quantitative", "scale": {"domain": [0, 2], "nice": false}, "axis": null}, "y2": {"field": "g1"}}}
]},
{"data": {"name": "err"}, "transform": [{"filter": "datum.p === 'Br'"}],
"resolve": {"axis": {"y": "independent", "x": "independent"}},
"layer": [
{"mark": {"type": "rule", "color": "#c4c4c4", "strokeWidth": 2.5}, "encoding": {"x": {"field": "pos", "type": "quantitative", "scale": {"domain": [0.475, 10.5], "nice": false, "zero": false}, "axis": {"orient": "bottom", "title": null, "values": [5, 10], "format": "d", "labelFontSize": 56, "labelPadding": 10, "tickSize": 9}}, "y": {"field": "lo", "type": "quantitative", "scale": {"domain": [0, 2], "nice": false}, "axis": {"orient": "left", "title": "bits", "values": [0, 1, 2], "format": ".1f", "tickSize": 38, "labelPadding": 14, "labelFontSize": 56, "titleFontSize": 62, "titleFontWeight": "normal", "titleX": -174, "titleY": 242, "titleAngle": 270, "titleAlign": "center", "titleBaseline": "alphabetic"}}, "y2": {"field": "hi"}}},
{"mark": {"type": "rule", "color": "#c4c4c4", "strokeWidth": 2.5, "xOffset": -13, "x2Offset": 13}, "encoding": {"x": {"field": "pos", "type": "quantitative", "scale": {"domain": [0.475, 10.5], "nice": false, "zero": false}, "axis": {"orient": "bottom", "title": null, "values": [1, 2, 3, 4, 6, 7, 8, 9], "labels": false, "domain": false, "tickSize": 9}}, "x2": {"field": "pos"}, "y": {"field": "hi", "type": "quantitative", "scale": {"domain": [0, 2], "nice": false}, "axis": {"orient": "left", "title": null, "values": [0.2, 0.4, 0.6, 0.8, 1.2, 1.4, 1.6, 1.8], "labels": false, "domain": false, "tickSize": 19}}}},
{"mark": {"type": "rule", "color": "#c4c4c4", "strokeWidth": 2.5, "xOffset": -13, "x2Offset": 13}, "encoding": {"x": {"field": "pos", "type": "quantitative", "scale": {"domain": [0.475, 10.5], "nice": false, "zero": false}, "axis": null}, "x2": {"field": "pos"}, "y": {"field": "lo", "type": "quantitative", "scale": {"domain": [0, 2], "nice": false}, "axis": null}}}
]},
{"data": {"values": [{}]}, "mark": {"type": "text", "text": "Reverse Strand", "align": "left", "baseline": "alphabetic", "font": "DejaVu Serif", "fontSize": 66, "color": "#3c3c3c"}, "encoding": {"x": {"datum": 3.377, "type": "quantitative", "scale": {"domain": [0.475, 10.5], "nice": false, "zero": false}, "axis": null}, "y": {"datum": 2.247, "type": "quantitative", "scale": {"domain": [0, 2], "nice": false}, "axis": null}}}
]}
]
}
